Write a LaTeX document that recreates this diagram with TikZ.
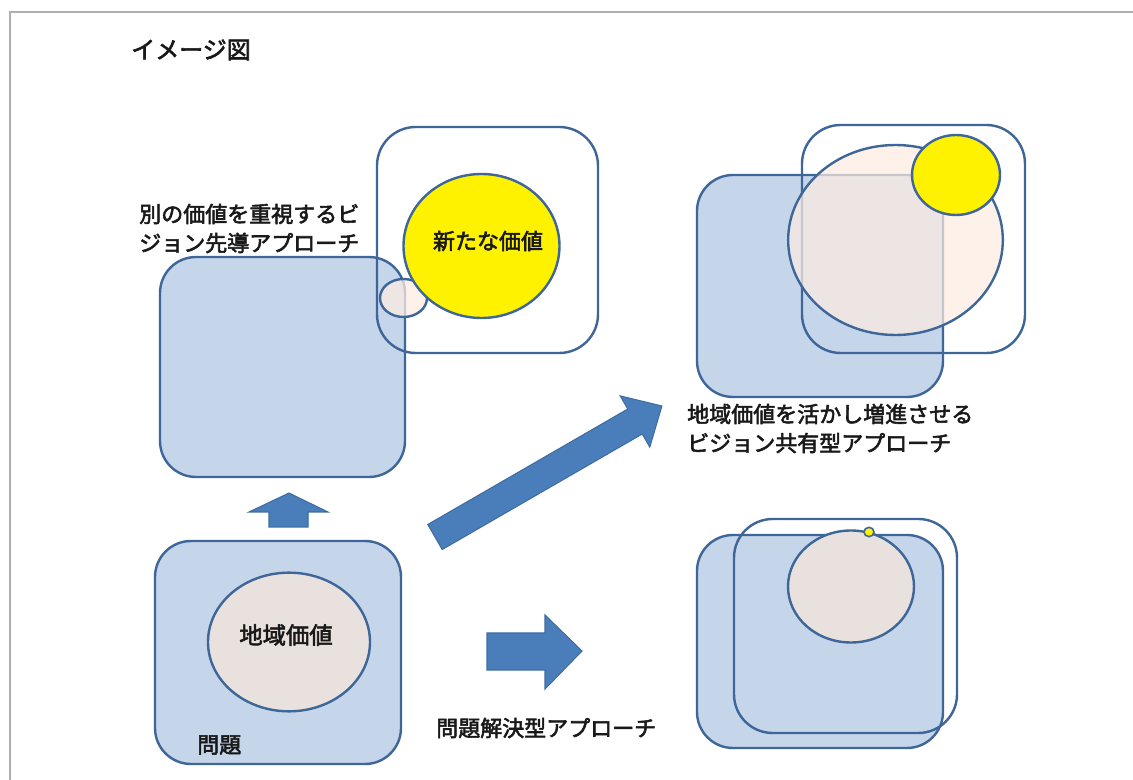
\documentclass[tikz,border=0pt]{standalone}
\usepackage{fontspec}
\setmainfont{Noto Sans CJK JP}[FakeBold=2.5]
\usetikzlibrary{shapes.geometric}
\definecolor{bluefill}{RGB}{197,213,234}
\definecolor{lineblue}{RGB}{62,102,152}
\definecolor{arrowfill}{RGB}{74,126,187}
\definecolor{arrowline}{RGB}{62,108,162}
\definecolor{beige}{RGB}{232,225,222}
\definecolor{peach}{RGB}{252,236,226}
\definecolor{framegray}{RGB}{175,175,175}
\definecolor{txt}{RGB}{25,25,25}
\tikzset{
  bluebox/.style={fill=bluefill, draw=lineblue, line width=1.8pt, rounded corners=27pt},
  openbox/.style={draw=lineblue, line width=1.8pt, rounded corners=29pt},
  ell/.style={ellipse, draw=lineblue, line width=1.8pt, inner sep=0pt},
  blockarrow/.style={fill=arrowfill, draw=arrowline, line width=0.8pt, line join=miter},
  lbl/.style={text=txt, inner sep=0pt, font=\fontsize{16.5}{21.75}\selectfont},
}
\begin{document}
\begin{tikzpicture}[x=0.75pt,y=-0.75pt]
\useasboundingbox (0,0) rectangle (1133,780);
% frame
\draw[framegray, line width=1.1pt] (10,780) -- (10,12) -- (1133,12);
% title
\node[lbl, anchor=west, font=\fontsize{18}{21}\selectfont] (title) at (131,50) {イメージ図};

% ---- top-left group
\draw[bluebox] (160,257) rectangle (405,477);
\draw[openbox] (377,127) rectangle (598,353);
\node[ell, fill=peach, fill opacity=0.75, minimum width=35.25pt, minimum height=28.5pt] (small) at (403.5,298) {};
\node[ell, fill=yellow, minimum width=117pt, minimum height=108pt] (newval) at (481.5,246) {};
\node[lbl] (newvaltxt) at (488,241) {新たな価値};
\node[lbl, anchor=west, align=left] (visionlead) at (139,228.5) {別の価値を重視するビ\\ジョン先導アプローチ};

% ---- bottom-left group
\draw[bluebox] (155,541) rectangle (401,764);
\node[ell, fill=beige, minimum width=121.5pt, minimum height=104pt] (local) at (289,642) {};
\node[lbl, font=\fontsize{17.5}{21}\selectfont] (localtxt) at (286,635) {地域価値};
\node[lbl, anchor=west] (mondai) at (197,745) {問題};

% ---- arrows
\draw[blockarrow] (269,527) -- (269,512) -- (249,512) -- (289,493) -- (328,512) -- (308,512) -- (308,527) -- cycle;
\draw[blockarrow] (427.8,524.5) -- (627.8,409.0) -- (620.2,395.9) -- (661.9,406) -- (649.8,447.1) -- (642.2,434) -- (442.2,549.5) -- cycle;
\draw[blockarrow] (487,633) -- (545,633) -- (545,615) -- (582,651) -- (545,689) -- (545,670) -- (487,670) -- cycle;
\node[lbl, anchor=west] (solve) at (436,728) {問題解決型アプローチ};

% ---- top-right group
\draw[bluebox] (697,175) rectangle (943,397);
\draw[openbox] (802,125) rectangle (1025,353);
\node[ell, fill=peach, fill opacity=0.72, minimum width=161pt, minimum height=142.5pt] (shared) at (895.5,240) {};
\node[ell, fill=yellow, minimum width=66pt, minimum height=60pt] (sharednew) at (956,175) {};
\node[lbl, anchor=west, align=left] (visionshare) at (687,428.5) {地域価値を活かし増進させる\\ビジョン共有型アプローチ};

% ---- bottom-right group
\draw[bluebox] (697,535) rectangle (943,748);
\draw[openbox] (734,519) rectangle (957,733);
\node[ell, fill=beige, minimum width=94.5pt, minimum height=84pt] (solved) at (851,586.5) {};
\node[ell, fill=yellow, line width=1.2pt, minimum width=7.5pt, minimum height=7pt] (tiny) at (869,532) {};
\end{tikzpicture}
\end{document}
